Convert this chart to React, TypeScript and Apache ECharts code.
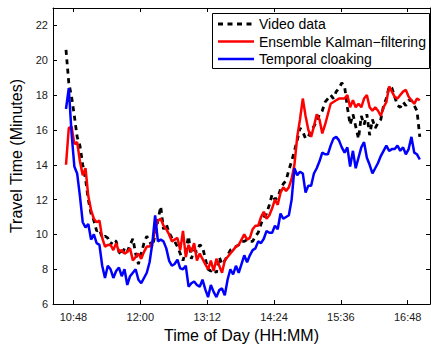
import React, { useEffect, useRef } from "react";
import * as echarts from "echarts";

// Sampling of the curves: first sample time (minutes after midnight) and step
const startMinute = 640; // 10:40
const stepMinutes = 3;

const videoData = [
  20.6, 18.7, 17.9, 16.8, 15.6, 15.1, 14.0, 13.2, 12.0, 11.2,
  10.8, 10.2, 10.3, 9.8, 9.9, 9.8, 9.4, 9.7, 9.6, 9.0,
  8.8, 9.2, 9.0, 9.4, 9.75, 8.9, 8.3, 8.9, 9.5, 9.9,
  9.6, 9.3, 10.0, 10.8, 11.6, 10.3, 10.6, 10.1, 9.8, 9.6,
  9.3, 8.9, 8.5, 9.1, 9.9, 8.6, 9.1, 9.0, 9.4, 9.3,
  8.6, 8.0, 7.9, 8.0, 7.8, 8.7, 8.3, 8.5, 8.8, 9.1,
  9.2, 9.3, 9.4, 9.6, 9.6, 9.7, 9.6, 9.6, 9.9, 10.1,
  10.6, 11.0, 11.2, 11.7, 12.3, 12.0, 12.1, 12.6, 12.9, 13.1,
  13.7, 14.2, 14.8, 15.4, 16.1, 15.9, 15.5, 15.6, 16.0, 16.2,
  16.5, 16.9, 17.1, 17.6, 17.8, 18.0, 17.8, 18.2, 18.4, 18.7,
  18.5, 17.3, 16.3, 16.9, 16.2, 15.5, 16.8, 16.3, 16.9, 15.7,
  16.6, 16.1, 16.4, 16.6, 17.4, 17.8, 18.5, 18.4, 17.9, 17.4,
  17.3, 17.6, 17.4, 17.7, 17.7, 17.4, 17.1, 15.6,
];

const ensembleKF = [
  14.0, 16.1, 16.2, 15.2, 15.3, 14.2, 13.4, 13.8, 12.2, 11.4,
  10.9, 10.7, 10.8, 9.8, 9.3, 9.4, 9.4, 9.1, 9.5, 9.0,
  9.1, 8.9, 9.0, 9.2, 8.5, 8.7, 8.9, 8.6, 9.0, 9.3,
  9.3, 9.5, 10.3, 10.8, 10.9, 10.5, 10.3, 10.0, 9.6, 9.7,
  9.8, 9.1, 10.2, 8.7, 9.4, 9.0, 9.5, 8.5, 8.9, 8.6,
  8.3, 8.0, 8.5, 7.9, 8.6, 8.2, 7.8, 8.5, 8.7, 8.9,
  9.1, 9.3, 9.4, 9.7, 10.0, 9.7, 9.8, 10.3, 10.5, 10.5,
  11.0, 11.3, 10.9, 11.1, 11.5, 12.0, 11.7, 12.4, 12.7, 12.5,
  12.7, 13.2, 14.0, 15.6, 16.6, 17.8, 16.8, 16.0, 15.6, 16.2,
  16.9, 16.6, 15.8, 16.3, 16.9, 17.5, 17.6, 17.7, 17.8, 17.8,
  17.8, 18.0, 17.3, 17.7, 17.3, 17.5, 17.3, 17.8, 18.0, 17.3,
  17.1, 17.3, 17.1, 16.8, 17.3, 17.6, 18.5, 18.2, 17.9, 17.8,
  18.0, 18.2, 18.3, 17.9, 17.7, 17.5, 17.8, 17.7,
];

const temporalCloaking = [
  17.2, 18.4, 15.8, 13.9, 13.5, 12.2, 10.7, 10.4, 10.6, 9.7,
  10.0, 9.5, 9.4, 8.2, 7.5, 8.2, 8.0, 7.5, 7.9, 8.1,
  7.6, 8.0, 7.1, 7.6, 7.8, 8.0, 7.4, 7.2, 7.5, 7.8,
  8.4, 9.5, 11.1, 9.6, 9.7, 9.6, 9.2, 8.5, 8.2, 8.3,
  8.55, 8.05, 8.0, 8.2, 7.0, 7.2, 7.3, 7.1, 7.0, 7.4,
  6.85, 6.4, 7.1, 6.7, 6.4, 6.8, 6.9, 6.5, 7.4, 8.0,
  7.7, 8.2, 7.8, 8.3, 8.8, 8.4, 8.8, 9.1, 9.2, 9.6,
  9.5, 9.75, 10.2, 10.1, 10.1, 10.5, 10.3, 11.2, 10.9, 11.0,
  11.1, 12.0, 13.8, 13.4, 13.6, 13.5, 12.4, 12.8, 12.8, 13.5,
  13.8, 14.2, 14.7, 14.6, 14.6, 15.1, 15.5, 15.6, 15.4, 15.0,
  14.7, 15.0, 13.9, 14.8, 13.8, 14.4, 15.0, 15.3, 14.4, 14.0,
  13.5, 13.8, 14.1, 14.5, 14.8, 15.1, 14.8, 14.9, 14.9, 15.1,
  14.8, 15.0, 14.6, 14.9, 15.6, 14.7, 14.6, 14.3,
];

const xTickMinutes = [648, 720, 792, 864, 936, 1008];
const yTicks = [6, 8, 10, 12, 14, 16, 18, 20, 22];
const seriesNames = ["Video data", "Ensemble Kalman\u2212filtering", "Temporal cloaking"];
const seriesColors = ["#000000", "#ff0000", "#0000ff"];

const FONT = "'Liberation Sans', Arial, Helvetica, sans-serif";

function fmtTime(v: number): string {
  const h = Math.floor(v / 60);
  const m = Math.round(v - h * 60);
  return `${h}:${m < 10 ? "0" + m : m}`;
}

function pairs(values: number[]): number[][] {
  return values.map((v, i) => [startMinute + i * stepMinutes, v]);
}

export default function App() {
  const ref = useRef<HTMLDivElement>(null);

  useEffect(() => {
    document.body.style.margin = "0";
    if (!ref.current) return;
    const chart = echarts.init(ref.current, undefined, { renderer: "svg" });

    const axisLine = { show: true, lineStyle: { color: "#000", width: 1 } };
    const tickBase = { show: true, inside: true, length: 4, lineStyle: { color: "#000", width: 1 } };
    const labelStyle = { color: "#1a1a1a", fontSize: 11, fontFamily: FONT };

    const legendTop = 13;
    const rowGap = 17.5;
    const legendRows = seriesNames.map((name, i) => {
      const y = legendTop + 11 + i * rowGap;
      return [
        {
          type: "line",
          shape: { x1: 218, y1: y, x2: 254, y2: y },
          style: {
            stroke: seriesColors[i],
            lineWidth: i === 0 ? 2.8 : 2.5,
            lineDash: i === 0 ? [5, 4.5] : null,
          },
        },
        {
          type: "text",
          x: 259,
          y,
          style: {
            text: name,
            fill: "#000",
            font: `14px ${FONT}`,
            verticalAlign: "middle",
            align: "left",
          },
        },
      ];
    });

    chart.setOption({
      animation: false,
      backgroundColor: "#ffffff",
      grid: { left: 53, right: 1, top: 8, bottom: 40, containLabel: false },
      xAxis: [
        {
          type: "value",
          min: 626,
          max: 1032,
          position: "bottom",
          axisLine,
          axisTick: { ...tickBase, customValues: xTickMinutes },
          axisLabel: { ...labelStyle, margin: 7, customValues: xTickMinutes, formatter: (v: number) => fmtTime(v) },
          splitLine: { show: false },
          name: "Time of Day (HH:MM)",
          nameLocation: "middle",
          nameGap: 19,
          nameTextStyle: { color: "#000", fontSize: 16, fontFamily: FONT },
        },
        {
          type: "value",
          min: 626,
          max: 1032,
          position: "top",
          axisLine,
          axisTick: { ...tickBase, customValues: xTickMinutes },
          axisLabel: { show: false },
          splitLine: { show: false },
        },
      ],
      yAxis: [
        {
          type: "value",
          min: 6,
          max: 23,
          position: "left",
          axisLine,
          axisTick: { ...tickBase, customValues: yTicks },
          axisLabel: { ...labelStyle, margin: 5, customValues: yTicks },
          splitLine: { show: false },
          name: "Travel Time (Minutes)",
          nameLocation: "middle",
          nameGap: 17,
          nameTextStyle: { color: "#000", fontSize: 16, fontFamily: FONT },
        },
        {
          type: "value",
          min: 6,
          max: 23,
          position: "right",
          axisLine,
          axisTick: { ...tickBase, customValues: yTicks },
          axisLabel: { show: false },
          splitLine: { show: false },
        },
      ],
      series: [videoData, ensembleKF, temporalCloaking].map((vals, i) => ({
        name: seriesNames[i],
        type: "line",
        xAxisIndex: 0,
        yAxisIndex: 0,
        data: pairs(vals),
        symbol: "none",
        showSymbol: false,
        silent: true,
        lineStyle: {
          color: seriesColors[i],
          width: i === 0 ? 2.8 : 2.5,
          type: i === 0 ? [5, 4.5] : "solid",
        },
        z: 2 + i,
      })),
      graphic: [
        {
          type: "rect",
          shape: { x: 212.5, y: 13.5, width: 217, height: 55 },
          style: { fill: "#ffffff", stroke: "#000", lineWidth: 1 },
          z: 10,
        },
        ...legendRows.flat().map((el) => ({ ...el, z: 11 })),
      ],
    });

    return () => chart.dispose();
  }, []);

  return <div ref={ref} style={{ width: 431, height: 348 }} />;
}
